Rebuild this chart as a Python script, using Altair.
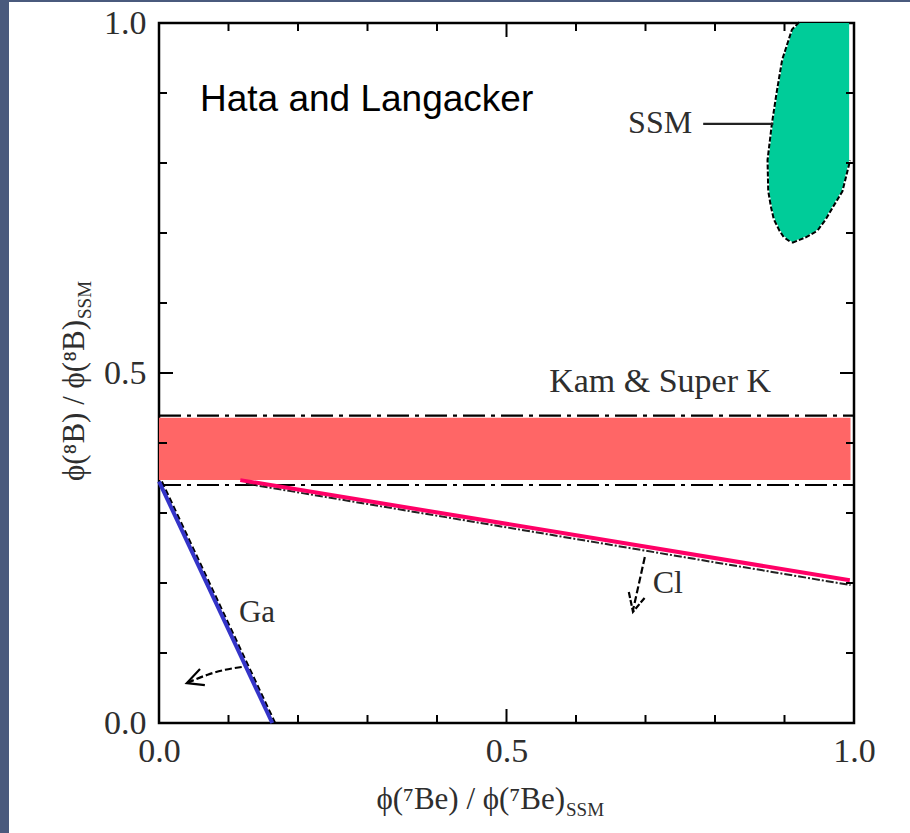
import altair as alt
import pandas as pd

# ---------------- data ----------------
# Kamiokande & Super-K band (red) and its dash-dot limits
band_x = [0.0, 0.995]
band_y = [0.347, 0.436]
kam_limits = [0.340, 0.439]

# Ga constraint (blue) and original black boundary underneath
ga_x = [0.0, 0.163]
ga_y = [0.345, 0.0]
ga_orig_x = [0.004, 0.167]
ga_orig_y = [0.345, 0.0]

# Cl constraint (pink) and original black boundary underneath
cl_x = [0.117, 0.994]
cl_y = [0.347, 0.204]
cl_orig_x = [0.125, 0.995]
cl_orig_y = [0.342, 0.197]

# SSM allowed region (green)
ssm_y = [1.000, 0.990, 0.947, 0.900, 0.854, 0.804, 0.760, 0.737, 0.720, 0.704, 0.695, 0.688]
ssm_xl = [0.922, 0.912, 0.898, 0.890, 0.883, 0.877, 0.878, 0.882, 0.886, 0.894, 0.900, 0.910]
ssm_xr = [0.993, 0.993, 0.993, 0.993, 0.993, 0.993, 0.982, 0.968, 0.958, 0.946, 0.930, 0.912]

# SSM label leader line
ssm_lead_x = [0.783, 0.884]
ssm_lead_y = [0.856, 0.856]

# Arrows
ga_arrow_x = [0.119, 0.095, 0.070, 0.040]
ga_arrow_y = [0.080, 0.076, 0.069, 0.057]
ga_head_x = [0.059, 0.040, 0.066]
ga_head_y = [0.077, 0.057, 0.054]
cl_arrow_x = [0.699, 0.682]
cl_arrow_y = [0.237, 0.161]
cl_head_x = [0.676, 0.682, 0.699]
cl_head_y = [0.187, 0.159, 0.179]

# Annotations
serif_labels = ["Ga", "Cl", "Kam & Super K", "SSM"]
serif_x = [0.141, 0.732, 0.721, 0.721]
serif_y = [0.157, 0.200, 0.487, 0.857]
serif_size = [31, 32, 34, 32]
sans_label = "Hata and Langacker"
sans_x = 0.059
sans_y = 0.890

# Ticks
major_ticks = [0.0, 0.5, 1.0]
minor_ticks = [0.1, 0.2, 0.3, 0.4, 0.6, 0.7, 0.8, 0.9]
mid_ticks = [0.5]

x_title = "ϕ(⁷Be) / ϕ(⁷Be)"
y_title = "ϕ(⁸B) / ϕ(⁸B)"
title_sub = "SSM"

# ---------------- layout / style ----------------
W, H = 695, 700
SERIF = "Liberation Serif"
TXT = "#2e2e2e"
STRIP = "#4a5a7d"

xscale = alt.Scale(domain=[0, 1], nice=False, zero=False)
yscale = alt.Scale(domain=[0, 1], nice=False, zero=False)
xaxis = alt.Axis(values=major_ticks, format=".1f", title=None, grid=False, domain=False,
                 ticks=False, labelFont=SERIF, labelFontSize=34, labelColor=TXT,
                 labelPadding=11, labelFlush=False, labelOverlap=False)
yaxis = alt.Axis(values=major_ticks, format=".1f", title=None, grid=False, domain=False,
                 ticks=False, labelFont=SERIF, labelFontSize=34, labelColor=TXT,
                 labelPadding=13, labelFlush=False, labelOverlap=False)


def X(f):
    return alt.X(f, type="quantitative", scale=xscale, axis=xaxis)


def Y(f):
    return alt.Y(f, type="quantitative", scale=yscale, axis=yaxis)


def X2(f):
    return alt.X2(f)


def Y2(f):
    return alt.Y2(f)


one = pd.DataFrame({"a": [0]})
layers = []

# background strips (outside plot area)
layers.append(alt.Chart(one).mark_rect(color=STRIP).encode(
    x=alt.value(-159), x2=alt.value(-150), y=alt.value(-23), y2=alt.value(H + 110)))
layers.append(alt.Chart(one).mark_rect(color=STRIP).encode(
    x=alt.value(-159), x2=alt.value(W + 56), y=alt.value(-23), y2=alt.value(-21)))

# red band
band_df = pd.DataFrame({"x0": [band_x[0]], "x1": [band_x[1]], "y0": [band_y[0]], "y1": [band_y[1]]})
layers.append(alt.Chart(band_df).mark_rect(color="#ff6666").encode(
    x=X("x0"), x2=X2("x1"), y=Y("y0"), y2=Y2("y1")))

# dash-dot limits
kam_df = pd.DataFrame({"y": kam_limits, "x0": [0.0, 0.0], "x1": [1.0, 1.0]})
layers.append(alt.Chart(kam_df).mark_rule(color="black", strokeWidth=2.2,
                                          strokeDash=[22, 6, 4, 6]).encode(
    x=X("x0"), x2=X2("x1"), y=Y("y")))


def line_df(xs, ys):
    return pd.DataFrame({"x": xs, "y": ys, "o": list(range(len(xs)))})


# original black boundaries
layers.append(alt.Chart(line_df(ga_orig_x, ga_orig_y)).mark_line(
    color="black", strokeWidth=2.2, strokeDash=[6, 3]).encode(x=X("x"), y=Y("y"), order="o:Q"))
layers.append(alt.Chart(line_df(cl_orig_x, cl_orig_y)).mark_line(
    color="#222", strokeWidth=2, strokeDash=[8, 2, 2, 2]).encode(x=X("x"), y=Y("y"), order="o:Q"))

# coloured constraint lines
layers.append(alt.Chart(line_df(ga_x, ga_y)).mark_line(
    color="#3434c8", strokeWidth=4).encode(x=X("x"), y=Y("y"), order="o:Q"))
layers.append(alt.Chart(line_df(cl_x, cl_y)).mark_line(
    color="#ff0066", strokeWidth=4).encode(x=X("x"), y=Y("y"), order="o:Q"))

# SSM outline (dashed) then fill
out_x = ssm_xl + ssm_xr[::-1][:7]
out_y = ssm_y + ssm_y[::-1][:7]
layers.append(alt.Chart(line_df(out_x, out_y)).mark_line(
    color="black", strokeWidth=4, strokeDash=[5, 2]).encode(x=X("x"), y=Y("y"), order="o:Q"))
ssm_df = pd.DataFrame({"y": ssm_y, "xl": ssm_xl, "xr": ssm_xr})
layers.append(alt.Chart(ssm_df).mark_area(color="#00cc99", orient="horizontal", opacity=1).encode(
    y=Y("y"), x=X("xl"), x2=X2("xr")))

# SSM leader
layers.append(alt.Chart(line_df(ssm_lead_x, ssm_lead_y)).mark_line(
    color="#222", strokeWidth=2.2).encode(x=X("x"), y=Y("y"), order="o:Q"))

# arrows
layers.append(alt.Chart(line_df(ga_arrow_x, ga_arrow_y)).mark_line(
    color="black", strokeWidth=2.2, strokeDash=[7, 3], interpolate="monotone").encode(
    x=X("x"), y=Y("y"), order="o:Q"))
layers.append(alt.Chart(line_df(ga_head_x, ga_head_y)).mark_line(
    color="black", strokeWidth=2.2).encode(x=X("x"), y=Y("y"), order="o:Q"))
layers.append(alt.Chart(line_df(cl_arrow_x, cl_arrow_y)).mark_line(
    color="black", strokeWidth=2.2, strokeDash=[7, 3]).encode(x=X("x"), y=Y("y"), order="o:Q"))
layers.append(alt.Chart(line_df(cl_head_x, cl_head_y)).mark_line(
    color="black", strokeWidth=2.2, strokeDash=[6, 2]).encode(x=X("x"), y=Y("y"), order="o:Q"))

# ticks (inward, on all four sides)
for vals, L in [(minor_ticks, 8), (mid_ticks, 14)]:
    tdf = pd.DataFrame({"v": vals})
    base = alt.Chart(tdf).mark_rule(color="black", strokeWidth=2)
    layers.append(base.encode(x=X("v"), y=alt.value(H), y2=alt.value(H - L)))
    layers.append(base.encode(x=X("v"), y=alt.value(0), y2=alt.value(L)))
    layers.append(base.encode(y=Y("v"), x=alt.value(0), x2=alt.value(L)))
    layers.append(base.encode(y=Y("v"), x=alt.value(W), x2=alt.value(W - L)))

# serif annotations
lab_df = pd.DataFrame({"t": serif_labels, "x": serif_x, "y": serif_y, "s": serif_size})
layers.append(alt.Chart(lab_df).mark_text(font=SERIF, color=TXT,
                                          align="center", baseline="middle").encode(
    x=X("x"), y=Y("y"), text="t:N", size=alt.Size("s:Q", scale=None, legend=None)))

# sans annotation
sans_df = pd.DataFrame({"t": [sans_label], "x": [sans_x], "y": [sans_y]})
layers.append(alt.Chart(sans_df).mark_text(font="Liberation Sans", fontSize=37, color="black",
                                           align="left", baseline="middle").encode(
    x=X("x"), y=Y("y"), text="t:N"))

# axis titles with subscripts
tdf = pd.DataFrame({"t": [x_title]})
layers.append(alt.Chart(tdf).mark_text(font=SERIF, fontSize=31, color=TXT, align="right",
                                       baseline="middle").encode(
    x=alt.value(406), y=alt.value(777), text="t:N"))
sdf = pd.DataFrame({"t": [title_sub]})
layers.append(alt.Chart(sdf).mark_text(font=SERIF, fontSize=19, color=TXT, align="left",
                                       baseline="middle").encode(
    x=alt.value(407), y=alt.value(787), text="t:N"))
ytdf = pd.DataFrame({"t": [y_title]})
layers.append(alt.Chart(ytdf).mark_text(font=SERIF, fontSize=31, color=TXT, align="right",
                                        baseline="middle", angle=270).encode(
    x=alt.value(-84), y=alt.value(297), text="t:N"))
layers.append(alt.Chart(sdf).mark_text(font=SERIF, fontSize=19, color=TXT, align="left",
                                       baseline="middle", angle=270).encode(
    x=alt.value(-74), y=alt.value(296), text="t:N"))

chart = alt.layer(*layers).properties(
    width=W, height=H,
    autosize=alt.AutoSizeParams(type="none"),
    padding={"left": 159, "top": 23, "right": 56, "bottom": 110},
    background="white",
).configure_view(stroke="black", strokeWidth=2.5)

chart.save("out.html", embed_options={"renderer": "svg", "actions": False})
